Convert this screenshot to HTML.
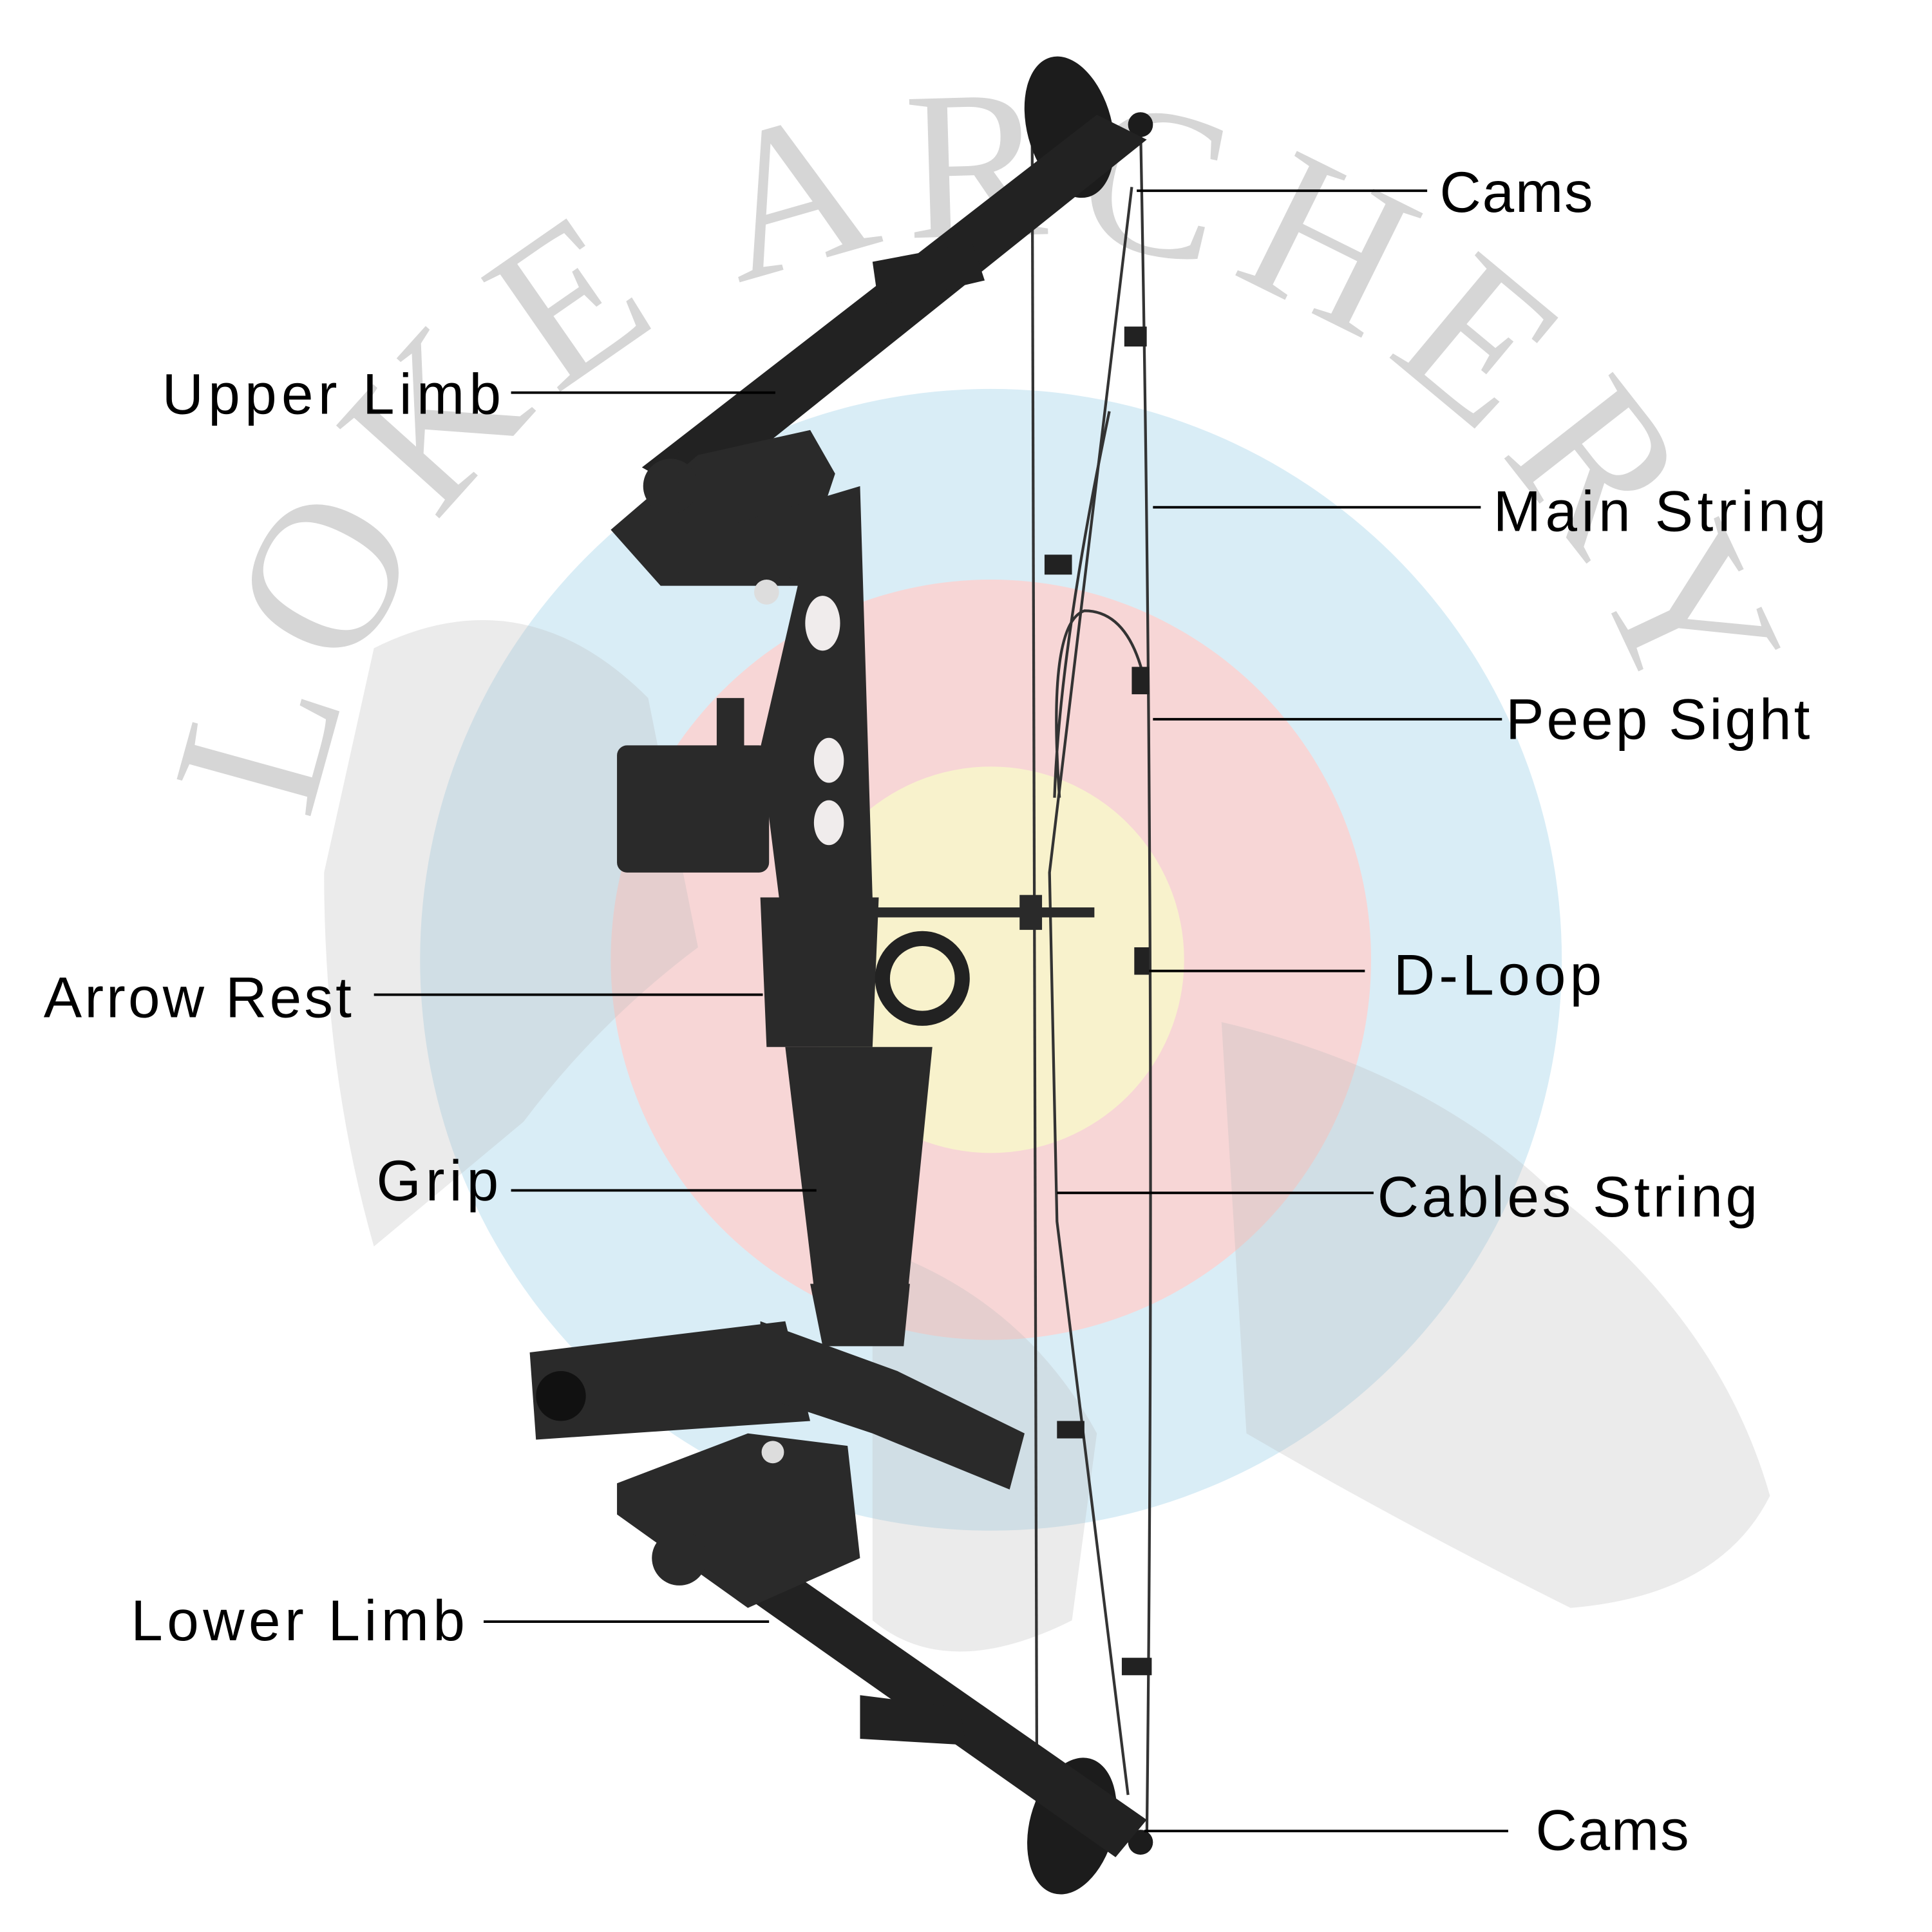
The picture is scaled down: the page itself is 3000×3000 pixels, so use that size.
<!DOCTYPE html>
<html><head><meta charset="utf-8"><style>
html,body{margin:0;padding:0;background:#fff;}
svg{display:block;}
.l{font-family:"Liberation Sans",sans-serif;font-size:46px;fill:#000;}
</style></head><body>
<svg width="3000" height="3000" viewBox="0 0 1550 1550" xmlns="http://www.w3.org/2000/svg">
<rect width="1550" height="1550" fill="#fff"/>
<circle cx="795" cy="770" r="458" fill="#d9edf6"/>
<circle cx="795" cy="770" r="305" fill="#f7d6d6"/>
<circle cx="795" cy="770" r="155" fill="#f8f2cc"/>
<defs><path id="arc" d="M 250 660 A 560 580 0 0 1 1350 660"/></defs>
<text font-family="'Liberation Serif',serif" font-size="170" fill="#d6d6d6"><textPath href="#arc" textLength="1480" lengthAdjust="spacing">LOKE ARCHERY</textPath></text>
<g fill="#bdbdbd" opacity="0.3">
<path d="M300 520 Q420 460 520 560 L560 760 Q480 820 420 900 L300 1000 Q260 860 260 700 Z"/>
<path d="M980 820 Q1150 860 1250 960 Q1380 1060 1420 1200 Q1380 1280 1260 1290 Q1120 1220 1000 1150 Z"/>
<path d="M700 1000 Q820 1040 880 1150 L860 1300 Q760 1350 700 1300 Z"/>
</g>
<g stroke="#333" stroke-width="2.2" fill="none">
<path d="M915 100 Q928 780 920 1480"/>
<path d="M828 80 L832 1480"/>
<path d="M908 150 L842 700 L848 980 L905 1440"/>
<path d="M890 330 Q850 520 846 640 M850 640 Q840 500 870 490 Q905 490 918 545"/>
</g>
<g fill="#222">
<rect x="902" y="262" width="18" height="16"/><rect x="838" y="445" width="22" height="16"/>
<rect x="908" y="535" width="14" height="22"/><rect x="910" y="760" width="12" height="22"/>
<rect x="848" y="1140" width="22" height="14"/><rect x="900" y="1330" width="24" height="14"/>
</g>
<g fill="#1c1c1c">
<ellipse cx="858" cy="102" rx="34" ry="58" transform="rotate(-15 858 102)"/>
<ellipse cx="860" cy="1465" rx="34" ry="56" transform="rotate(15 860 1465)"/>
<circle cx="915" cy="100" r="10"/><circle cx="915" cy="1478" r="10"/>
</g>
<g fill="#222">
<polygon points="880,92 920,112 560,400 515,375"/>
<polygon points="700,210 780,195 790,225 705,245"/>
<polygon points="540,1240 590,1230 920,1460 895,1490"/>
<polygon points="690,1360 770,1370 775,1400 690,1395"/>
</g>
<g fill="#2a2a2a">
<polygon points="490,425 560,365 650,345 670,380 640,470 530,470"/>
<polygon points="590,420 690,390 700,720 700,760 630,760 610,600 640,470"/>
<polygon points="610,720 705,720 700,840 615,840"/>
<polygon points="630,840 748,840 728,1040 655,1050"/>
<polygon points="650,1030 730,1030 725,1080 660,1080"/>
<rect x="495" y="598" width="122" height="102" rx="8"/>
<rect x="575" y="560" width="22" height="40"/>
<circle cx="740" cy="785" r="32" fill="none" stroke="#222" stroke-width="12"/>
<rect x="700" y="728" width="178" height="8"/>
<rect x="818" y="718" width="18" height="28"/>
<polygon points="425,1085 630,1060 650,1140 430,1155"/>
<polygon points="610,1060 720,1100 822,1150 810,1195 700,1150 610,1120"/>
<polygon points="495,1190 600,1150 680,1160 690,1250 600,1290 495,1215"/>
<circle cx="545" cy="1250" r="22"/>
<circle cx="538" cy="390" r="22"/>
</g>
<g fill="#ddd">
<circle cx="615" cy="475" r="10"/><circle cx="620" cy="1165" r="9"/>
<ellipse cx="660" cy="500" rx="14" ry="22" fill="#f0ecec"/>
<ellipse cx="665" cy="610" rx="12" ry="18" fill="#f0ecec"/>
<ellipse cx="665" cy="660" rx="12" ry="18" fill="#f0ecec"/>
<circle cx="450" cy="1120" r="20" fill="#111"/>
</g>
<g stroke="#000" stroke-width="2">
<line x1="912" y1="153" x2="1145" y2="153"/>
<line x1="410" y1="315" x2="622" y2="315"/>
<line x1="925" y1="407" x2="1188" y2="407"/>
<line x1="925" y1="577" x2="1205" y2="577"/>
<line x1="922" y1="779" x2="1095" y2="779"/>
<line x1="300" y1="798" x2="612" y2="798"/>
<line x1="410" y1="955" x2="655" y2="955"/>
<line x1="848" y1="957" x2="1102" y2="957"/>
<line x1="388" y1="1301" x2="617" y2="1301"/>
<line x1="918" y1="1469" x2="1210" y2="1469"/>
</g>
<text class="l" x="1155" y="170" textLength="123">Cams</text>
<text class="l" x="130" y="332" textLength="272">Upper Limb</text>
<text class="l" x="1198" y="426" textLength="267">Main String</text>
<text class="l" x="1208" y="593" textLength="244">Peep Sight</text>
<text class="l" x="1118" y="798" textLength="167">D-Loop</text>
<text class="l" x="35" y="816" textLength="247">Arrow Rest</text>
<text class="l" x="302" y="963" textLength="98">Grip</text>
<text class="l" x="1105" y="976" textLength="305">Cables String</text>
<text class="l" x="105" y="1316" textLength="268">Lower Limb</text>
<text class="l" x="1232" y="1484" textLength="123">Cams</text>
</svg>
</body></html>
